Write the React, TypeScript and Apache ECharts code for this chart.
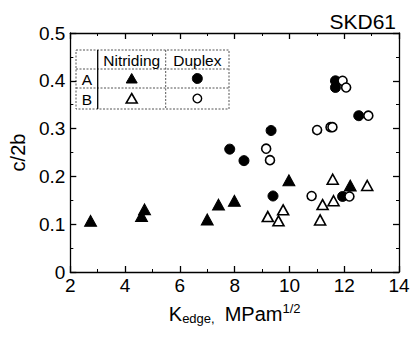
import React, { useEffect, useRef } from "react";
import * as echarts from "echarts";

const xTicks = [2, 4, 6, 8, 10, 12, 14];
const yTicks = [0, 0.1, 0.2, 0.3, 0.4, 0.5];

const nitridingA: [number, number][] = [
  [2.74, 0.107], [4.6, 0.117], [4.71, 0.131], [7.0, 0.11], [7.41, 0.141],
  [7.99, 0.149], [9.98, 0.192], [12.22, 0.181],
];
const duplexA: [number, number][] = [
  [7.82, 0.257], [8.34, 0.233], [9.33, 0.296], [9.4, 0.159], [11.68, 0.4],
  [11.68, 0.386], [11.94, 0.158], [12.53, 0.327],
];
const nitridingB: [number, number][] = [
  [9.21, 0.116], [9.6, 0.107], [9.77, 0.13], [11.12, 0.109], [11.21, 0.141],
  [11.61, 0.149], [11.58, 0.194], [12.84, 0.181],
];
const duplexB: [number, number][] = [
  [9.15, 0.258], [9.29, 0.234], [10.81, 0.159], [11.01, 0.297], [11.5, 0.303],
  [11.57, 0.303], [11.94, 0.4], [12.07, 0.386], [12.19, 0.158], [12.88, 0.327],
];

const FONT = "Liberation Sans, Arial, sans-serif";

export default function App() {
  const ref = useRef<HTMLDivElement>(null);
  useEffect(() => {
    const chart = echarts.init(ref.current!, null, { renderer: "svg" });
    const axisCommon = {
      type: "value" as const,
      axisLine: { show: true, onZero: false, lineStyle: { color: "#000", width: 1.3 } },
      axisTick: { show: true, inside: true, length: 6, lineStyle: { color: "#000", width: 1.3 } },
      minorTick: { show: true, splitNumber: 2, length: 3, lineStyle: { color: "#000", width: 1 } },
      splitLine: { show: false },
    };
    const labelStyle = { color: "#000", fontSize: 19, fontFamily: FONT };
    const filledStyle = { color: "#000", borderColor: "#000", borderWidth: 1, opacity: 1 };
    const openStyle = { color: "#fff", borderColor: "#000", borderWidth: 1.6, opacity: 1 };
    // legend table geometry
    const tx0 = 76, tx1 = 97.7, tx2 = 165.7, tx3 = 229;
    const ty0 = 50, ty1 = 69, ty2 = 88, ty3 = 109;
    const dotted = { stroke: "#555", lineWidth: 1, lineDash: [2, 1.5] };
    const tri = (cx: number, cy: number, filled: boolean) => ({
      type: "polygon",
      shape: { points: [[cx, cy - 5], [cx + 5.5, cy + 4.5], [cx - 5.5, cy + 4.5]] },
      style: filled ? { fill: "#000", stroke: "#000", lineWidth: 1 } : { fill: "#fff", stroke: "#000", lineWidth: 1.6 },
    });
    const circ = (cx: number, cy: number, filled: boolean) => ({
      type: "circle",
      shape: { cx, cy, r: filled ? 5 : 4.3 },
      style: filled ? { fill: "#000", stroke: "#000", lineWidth: 1 } : { fill: "#fff", stroke: "#000", lineWidth: 1.4 },
    });
    const cellText = (text: string, x: number, y: number) => ({
      type: "text",
      style: { text, x, y, fill: "#000", fontSize: 15.5, fontFamily: FONT, align: "center", verticalAlign: "middle" },
    });
    chart.setOption({
      animation: false,
      backgroundColor: "#fff",
      grid: { left: 59, right: 15, top: 33, bottom: 66 },
      xAxis: [
        {
          ...axisCommon,
          min: 2, max: 14, interval: 2, position: "bottom",
          axisLabel: { ...labelStyle, margin: 4, formatter: (v: number) => (xTicks.includes(v) ? String(v) : "") },
          name: "{b|K}{s|edge,}   {b|MPam}{sup|1/2}",
          nameLocation: "middle",
          nameGap: 30,
          nameTextStyle: {
            rich: {
              b: { fontSize: 20, fontFamily: FONT, color: "#000" },
              s: { fontSize: 13, fontFamily: FONT, color: "#000", padding: [10, 0, 0, 0] },
              sup: { fontSize: 13, fontFamily: FONT, color: "#000", padding: [0, 0, 10, 0] },
            },
          },
        },
        {
          ...axisCommon,
          min: 2, max: 14, interval: 2, position: "top",
          axisLabel: { show: false },
        },
      ],
      yAxis: [
        {
          ...axisCommon,
          min: 0, max: 0.5, interval: 0.1, position: "left",
          axisLabel: {
            ...labelStyle, margin: 5,
            formatter: (v: number) => {
              const t = yTicks.find((k) => Math.abs(k - v) < 1e-9);
              return t === undefined ? "" : t === 0 ? "0" : t.toFixed(1);
            },
          },
          name: "c/2b",
          nameLocation: "middle",
          nameGap: 42,
          nameRotate: 90,
          nameTextStyle: { fontSize: 20, fontFamily: FONT, color: "#000" },
        },
        {
          ...axisCommon,
          min: 0, max: 0.5, interval: 0.1, position: "right",
          axisLabel: { show: false },
        },
      ],
      graphic: [
        {
          type: "text",
          style: { text: "SKD61", x: 396, y: 21, align: "right", verticalAlign: "middle", fontSize: 21, fontFamily: FONT, fill: "#000" },
        },
        { type: "rect", shape: { x: tx0, y: ty0, width: tx3 - tx0, height: ty3 - ty0 }, style: { fill: "#fff", ...dotted } },
        { type: "line", shape: { x1: tx0, y1: ty1, x2: tx3, y2: ty1 }, style: { ...dotted } },
        { type: "line", shape: { x1: tx0, y1: ty2, x2: tx3, y2: ty2 }, style: { ...dotted } },
        { type: "line", shape: { x1: tx1, y1: ty0, x2: tx1, y2: ty3 }, style: { stroke: "#000", lineWidth: 1.3 } },
        { type: "line", shape: { x1: tx2, y1: ty0, x2: tx2, y2: ty3 }, style: { ...dotted } },
        cellText("Nitriding", (tx1 + tx2) / 2, (ty0 + ty1) / 2 + 0.5),
        cellText("Duplex", (tx2 + tx3) / 2, (ty0 + ty1) / 2 + 0.5),
        cellText("A", (tx0 + tx1) / 2, (ty1 + ty2) / 2 + 0.5),
        cellText("B", (tx0 + tx1) / 2, (ty2 + ty3) / 2 + 0.5),
        tri((tx1 + tx2) / 2, (ty1 + ty2) / 2, true),
        tri((tx1 + tx2) / 2, (ty2 + ty3) / 2, false),
        circ((tx2 + tx3) / 2, (ty1 + ty2) / 2, true),
        circ((tx2 + tx3) / 2, (ty2 + ty3) / 2, false),
      ],
      series: [
        { name: "Duplex A", type: "scatter", symbol: "circle", symbolSize: 10, data: duplexA, itemStyle: filledStyle, z: 3 },
        { name: "Duplex B", type: "scatter", symbol: "circle", symbolSize: 9, data: duplexB, itemStyle: openStyle, z: 4 },
        { name: "Nitriding A", type: "scatter", symbol: "triangle", symbolSize: [12, 11], data: nitridingA, itemStyle: filledStyle, z: 3 },
        { name: "Nitriding B", type: "scatter", symbol: "triangle", symbolSize: [11, 10], data: nitridingB, itemStyle: openStyle, z: 4 },
      ],
    });
    return () => chart.dispose();
  }, []);
  return <div ref={ref} style={{ width: 414, height: 338, position: "absolute", left: 0, top: 0 }} />;
}
